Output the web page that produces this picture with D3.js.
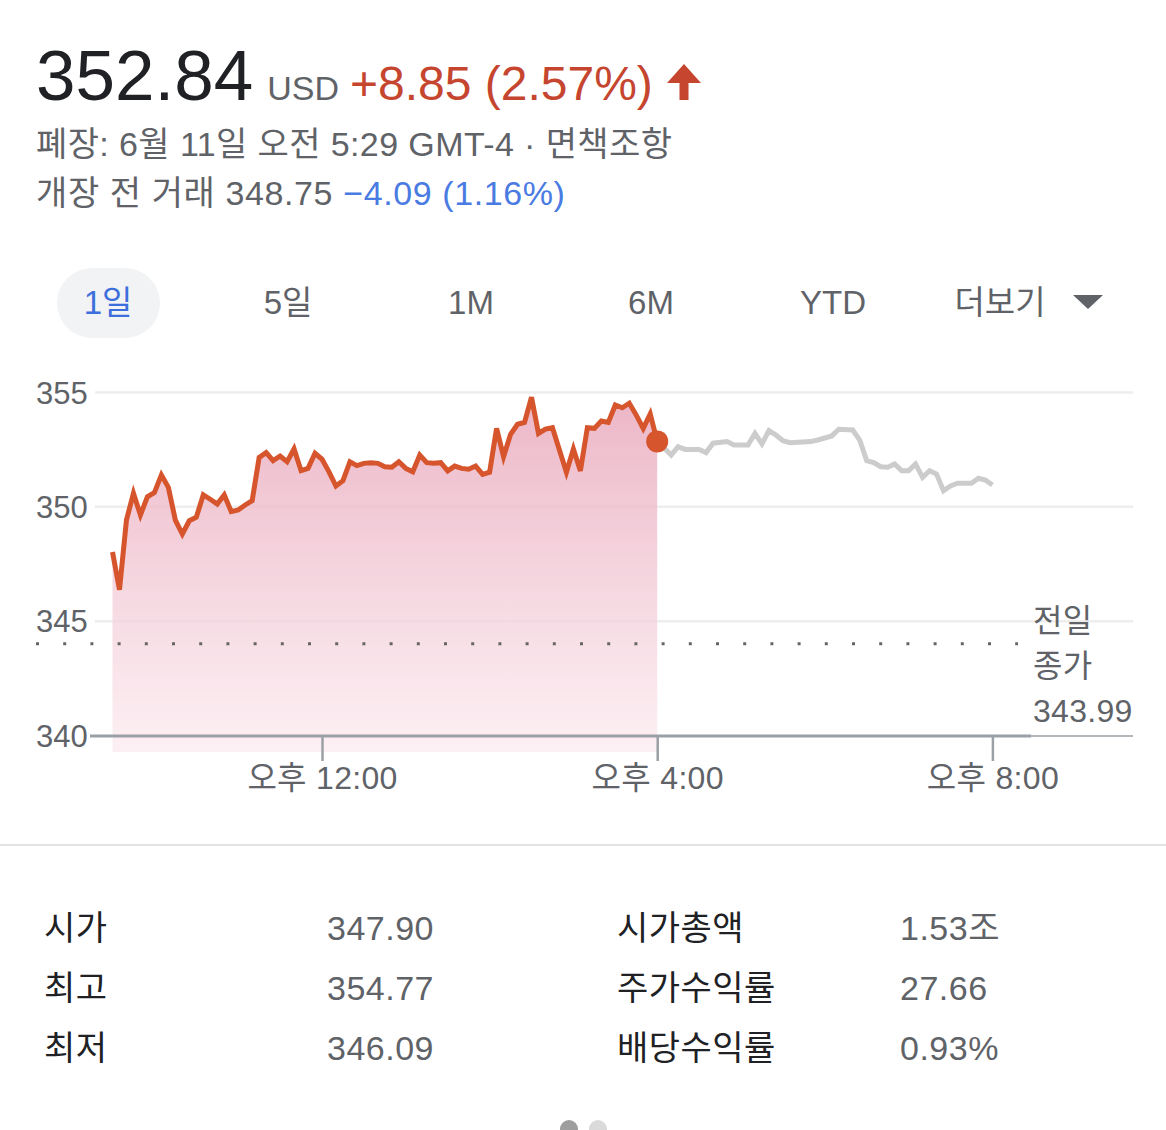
<!DOCTYPE html>
<html>
<head>
<meta charset="utf-8">
<script src="https://cdn.jsdelivr.net/npm/d3@7"></script>
<style>
  html, body { margin: 0; padding: 0; background: #fff; }
  svg { display: block; font-family: "Liberation Sans", Arial, "Noto Sans CJK KR", sans-serif; }
</style>
</head>
<body>
<svg id="chart" width="1166" height="1130"></svg>
<script>
// regular session, 5 minute steps from 9:30 to 16:00
const regularPrices = [
  348.0, 346.35, 349.4, 350.57, 349.62, 350.42, 350.6, 351.37, 350.83, 349.4,
  348.79, 349.37, 349.52, 350.5, 350.31, 350.1, 350.5, 349.77, 349.84, 350.06,
  350.25, 352.14, 352.35, 352.0, 352.2, 351.95, 352.51, 351.56, 351.66, 352.32,
  352.06, 351.51, 350.89, 351.12, 351.95, 351.78, 351.88, 351.91, 351.88, 351.73,
  351.71, 351.95, 351.66, 351.51, 352.24, 351.91, 351.88, 351.91, 351.55, 351.76,
  351.66, 351.62, 351.76, 351.4, 351.49, 353.41, 352.17, 353.15, 353.59, 353.67,
  354.77, 353.19, 353.38, 353.44, 352.46, 351.49, 352.51, 351.55, 353.44, 353.41,
  353.73, 353.67, 354.43, 354.31, 354.51, 353.99, 353.41, 354.04, 352.84
];

// after hours
const afterTimes = [
  "16:00", "16:10", "16:15", "16:20", "16:30", "16:35", "16:40", "16:50", "16:55", "17:05",
  "17:10", "17:15", "17:20", "17:25", "17:30", "17:35", "17:50", "17:55", "18:05", "18:10",
  "18:20", "18:25", "18:30", "18:35", "18:40", "18:45", "18:50", "18:55", "19:00", "19:05",
  "19:10", "19:15", "19:20", "19:25", "19:30", "19:35", "19:45", "19:50", "19:55", "20:00"
];
const afterPrices = [
  352.84, 352.24, 352.61, 352.49, 352.49, 352.35, 352.76, 352.83, 352.68, 352.68,
  353.19, 352.73, 353.31, 353.12, 352.87, 352.78, 352.83, 352.9, 353.08, 353.37,
  353.34, 352.9, 352.0, 351.91, 351.73, 351.71, 351.85, 351.56, 351.56, 351.85,
  351.27, 351.56, 351.41, 350.68, 350.89, 351.01, 351.01, 351.23, 351.15, 350.93
];

const prevClose = 343.99;
const yTicks = [340, 345, 350, 355];
const xTicks = ["12:00", "16:00", "20:00"];
const xTickLabels = ["오후 12:00", "오후 4:00", "오후 8:00"];

const tabs = ["1일", "5일", "1M", "6M", "YTD", "더보기"];

const statLabelsLeft = ["시가", "최고", "최저"];
const statValuesLeft = ["347.90", "354.77", "346.09"];
const statLabelsRight = ["시가총액", "주가수익률", "배당수익률"];
const statValuesRight = ["1.53조", "27.66", "0.93%"];

const RED = "#d6552d";
const GRAY_TEXT = "#5f6368";

const parseTime = d3.timeParse("%H:%M");
const openTime = parseTime("09:30");

const svg = d3.select("#chart");

// header
const head = svg.append("text").attr("x", 36).attr("y", 100);
head.append("tspan").attr("font-size", 71).attr("fill", "#202124").text("352.84");
head.append("tspan").attr("font-size", 34).attr("fill", GRAY_TEXT).attr("dx", 14).text("USD");
head.append("tspan").attr("font-size", 48).attr("fill", "#c5452f").attr("dx", 11).text("+8.85 (2.57%)");

svg.append("path")
  .attr("d", "M684,64 L701,83 L688.5,83 L688.5,100 L679.5,100 L679.5,83 L667,83 Z")
  .attr("fill", "#c5452f");

svg.append("text").attr("x", 36).attr("y", 156).attr("font-size", 34).attr("fill", GRAY_TEXT)
  .attr("letter-spacing", 0.4)
  .text("폐장: 6월 11일 오전 5:29 GMT-4 · 면책조항");

const pre = svg.append("text").attr("x", 36).attr("y", 205).attr("font-size", 34)
  .attr("letter-spacing", 0.6).attr("fill", GRAY_TEXT);
pre.append("tspan").text("개장 전 거래 348.75 ");
pre.append("tspan").attr("fill", "#4a7be2").text("\u22124.09 (1.16%)");

// tabs
const tabCenters = [108, 288, 471, 651, 833, 1000];
svg.append("rect").attr("x", 57).attr("y", 268).attr("width", 103).attr("height", 70)
  .attr("rx", 35).attr("fill", "#f1f3f4");
svg.selectAll("text.tab")
  .data(tabs)
  .enter()
  .append("text")
  .attr("class", "tab")
  .attr("x", (d, i) => tabCenters[i])
  .attr("y", 314)
  .attr("text-anchor", "middle")
  .attr("font-size", 33)
  .attr("fill", (d, i) => i === 0 ? "#3d6fdc" : GRAY_TEXT)
  .text(d => d);
svg.append("path").attr("d", "M1073,295 L1103,295 L1088,309 Z").attr("fill", GRAY_TEXT);

// scales
const x = d3.scaleTime()
  .domain([openTime, parseTime("20:00")])
  .range([112.5, 992.4]);
const y = d3.scaleLinear()
  .domain([340, 355])
  .range([735, 392]);

const regular = regularPrices.map((p, i) => ({date: d3.timeMinute.offset(openTime, 5 * i), price: p}));
const after = afterTimes.map((t, i) => ({date: parseTime(t), price: afterPrices[i]}));

// gridlines
const grid = svg.append("g")
  .attr("transform", "translate(95,0)")
  .call(d3.axisRight(y).tickValues(yTicks.filter(t => t > 340)).tickSize(1038).tickFormat(""));
grid.select(".domain").remove();
grid.selectAll("line").attr("stroke", "#eeeeee").attr("stroke-width", 2.5);

// y labels
const yAxis = svg.append("g")
  .attr("transform", "translate(36,0)")
  .call(d3.axisRight(y).tickValues(yTicks).tickSize(0).tickPadding(0));
yAxis.select(".domain").remove();
yAxis.selectAll("text")
  .attr("font-size", 31)
  .attr("font-family", "Liberation Sans, Arial, sans-serif")
  .attr("fill", GRAY_TEXT)
  .attr("dy", "0.36em");

// area fill
const defs = svg.append("defs");
const grad = defs.append("linearGradient").attr("id", "fillGrad")
  .attr("x1", 0).attr("x2", 0)
  .attr("gradientUnits", "userSpaceOnUse")
  .attr("y1", 395).attr("y2", 752);
grad.append("stop").attr("offset", 0).attr("stop-color", "#e9a9bd").attr("stop-opacity", 0.85);
grad.append("stop").attr("offset", 1).attr("stop-color", "#fbe9ee").attr("stop-opacity", 0.7);

const area = d3.area()
  .x(d => x(d.date))
  .y0(752)
  .y1(d => y(d.price));
svg.append("path")
  .datum(regular)
  .attr("d", area)
  .attr("fill", "url(#fillGrad)");

// previous close dotted line
svg.append("line")
  .attr("x1", 36).attr("x2", 1018)
  .attr("y1", y(prevClose)).attr("y2", y(prevClose))
  .attr("stroke", "#666")
  .attr("stroke-width", 3)
  .attr("stroke-dasharray", "3,24.2");

svg.selectAll("text.prev")
  .data(["전일", "종가", "343.99"])
  .enter()
  .append("text")
  .attr("class", "prev")
  .attr("x", 1033)
  .attr("y", (d, i) => 632 + i * 45)
  .attr("font-size", 32)
  .attr("letter-spacing", 0.3)
  .attr("fill", GRAY_TEXT)
  .text(d => d);

// x axis
svg.append("line").attr("x1", 90).attr("x2", 1031).attr("y1", 736).attr("y2", 736)
  .attr("stroke", "#9aa0a6").attr("stroke-width", 3);
svg.append("line").attr("x1", 1031).attr("x2", 1133).attr("y1", 736).attr("y2", 736)
  .attr("stroke", "#9aa0a6").attr("stroke-width", 1.5);

const xAxis = svg.append("g")
  .attr("transform", "translate(0,736)")
  .call(d3.axisBottom(x)
    .tickValues(xTicks.map(parseTime))
    .tickSize(25)
    .tickPadding(6)
    .tickFormat((d, i) => xTickLabels[i]));
xAxis.select(".domain").remove();
xAxis.selectAll("line").attr("stroke", "#9aa0a6").attr("stroke-width", 2.5);
xAxis.selectAll("text")
  .attr("font-size", 32)
  .attr("letter-spacing", 0.3)
  .attr("font-family", "Liberation Sans, Arial, 'Noto Sans CJK KR', sans-serif")
  .attr("fill", GRAY_TEXT)
  .attr("dy", "0.68em");

// lines
const line = d3.line()
  .x(d => x(d.date))
  .y(d => y(d.price));

svg.append("path")
  .datum(after)
  .attr("d", line)
  .attr("fill", "none")
  .attr("stroke", "#cccccc")
  .attr("stroke-width", 5)
  .attr("stroke-linejoin", "miter");

svg.append("path")
  .datum(regular)
  .attr("d", line)
  .attr("fill", "none")
  .attr("stroke", RED)
  .attr("stroke-width", 5)
  .attr("stroke-linejoin", "miter");

const last = regular[regular.length - 1];
svg.append("circle")
  .attr("cx", x(last.date))
  .attr("cy", y(last.price))
  .attr("r", 11)
  .attr("fill", RED);

// separator
svg.append("line").attr("x1", 0).attr("x2", 1166).attr("y1", 845).attr("y2", 845)
  .attr("stroke", "#e3e3e3").attr("stroke-width", 2);

// stats table
const rowY = [940, 1000, 1060];
function statCol(data, xPos, color) {
  svg.append("g").selectAll("text")
    .data(data)
    .enter()
    .append("text")
    .attr("x", xPos)
    .attr("y", (d, i) => rowY[i])
    .attr("font-size", 34)
    .attr("letter-spacing", 0.5)
    .attr("fill", color)
    .text(d => d);
}
statCol(statLabelsLeft, 44, "#202124");
statCol(statValuesLeft, 327, GRAY_TEXT);
statCol(statLabelsRight, 617, "#202124");
statCol(statValuesRight, 900, GRAY_TEXT);

// page dots
svg.append("circle").attr("cx", 569).attr("cy", 1129).attr("r", 9).attr("fill", "#9e9e9e");
svg.append("circle").attr("cx", 598).attr("cy", 1129).attr("r", 9).attr("fill", "#dadada");
</script>
</body>
</html>
